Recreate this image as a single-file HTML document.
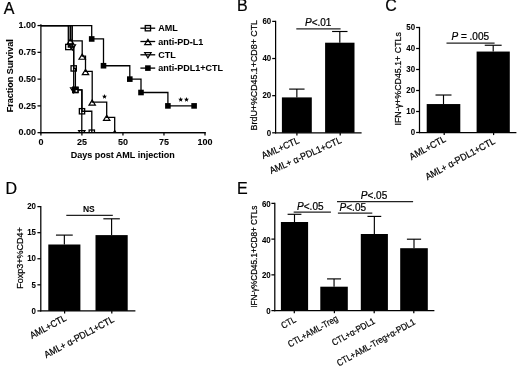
<!DOCTYPE html>
<html><head><meta charset="utf-8"><style>
html,body{margin:0;padding:0;background:#fff;}
svg{display:block;filter:grayscale(1);}
text{font-family:"Liberation Sans",sans-serif;fill:#000;stroke:#000;stroke-width:0.22px;}
text[font-weight="bold"]{stroke-width:0.05px;}
</style></head><body>
<svg width="520" height="368" viewBox="0 0 520 368">
<rect width="520" height="368" fill="#fff"/>
<text x="3.80" y="14.30" font-size="16">A</text>
<path d="M40.90 24.37L40.90 133.27" stroke="#000" stroke-width="1.25"/>
<path d="M40.30 132.67L205.60 132.67" stroke="#000" stroke-width="1.25"/>
<path d="M37.50 132.67L40.90 132.67" stroke="#000" stroke-width="1.25"/>
<text x="36.00" y="135.47" font-size="9" font-weight="bold" text-anchor="end">0.00</text>
<path d="M37.50 105.89L40.90 105.89" stroke="#000" stroke-width="1.25"/>
<text x="36.00" y="108.69" font-size="9" font-weight="bold" text-anchor="end">0.25</text>
<path d="M37.50 79.12L40.90 79.12" stroke="#000" stroke-width="1.25"/>
<text x="36.00" y="81.92" font-size="9" font-weight="bold" text-anchor="end">0.50</text>
<path d="M37.50 52.34L40.90 52.34" stroke="#000" stroke-width="1.25"/>
<text x="36.00" y="55.14" font-size="9" font-weight="bold" text-anchor="end">0.75</text>
<path d="M37.50 25.57L40.90 25.57" stroke="#000" stroke-width="1.25"/>
<text x="36.00" y="28.37" font-size="9" font-weight="bold" text-anchor="end">1.00</text>
<path d="M40.90 132.67L40.90 135.47" stroke="#000" stroke-width="1.25"/>
<text x="40.90" y="145.00" font-size="9" font-weight="bold" text-anchor="middle">0</text>
<path d="M81.92 132.67L81.92 135.47" stroke="#000" stroke-width="1.25"/>
<text x="81.92" y="145.00" font-size="9" font-weight="bold" text-anchor="middle">25</text>
<path d="M122.95 132.67L122.95 135.47" stroke="#000" stroke-width="1.25"/>
<text x="122.95" y="145.00" font-size="9" font-weight="bold" text-anchor="middle">50</text>
<path d="M163.97 132.67L163.97 135.47" stroke="#000" stroke-width="1.25"/>
<text x="163.97" y="145.00" font-size="9" font-weight="bold" text-anchor="middle">75</text>
<path d="M205.00 132.67L205.00 135.47" stroke="#000" stroke-width="1.25"/>
<text x="205.00" y="145.00" font-size="9" font-weight="bold" text-anchor="middle">100</text>
<text x="122.70" y="158.40" font-size="9" font-weight="bold" text-anchor="middle">Days post AML injection</text>
<text x="13.40" y="75.70" font-size="9" font-weight="bold" text-anchor="middle" transform="rotate(-90 13.40 75.70)">Fraction Survival</text>
<defs><clipPath id="ca"><rect x="0" y="0" width="220" height="132.17"/></clipPath></defs>
<g clip-path="url(#ca)">
<rect x="68.30" y="25.57" width="4.00" height="14.30" fill="#8a8a8a"/>
<polyline points="40.90,25.57 68.30,25.57 68.30,46.99 73.70,46.99 73.70,68.41 75.40,68.41 75.40,89.83 82.00,89.83 82.00,111.25 91.80,111.25 91.80,132.67" fill="none" stroke="#000" stroke-width="1.3"/>
<polyline points="40.90,25.57 70.50,25.57 70.50,40.87 82.20,40.87 82.20,56.17 85.50,56.17 85.50,71.47 92.20,71.47 92.20,102.07 106.70,102.07 106.70,117.37 114.70,117.37 114.70,132.67" fill="none" stroke="#000" stroke-width="1.3"/>
<polyline points="40.90,25.57 72.30,25.57 72.30,46.99 73.70,46.99 73.70,89.83 81.80,89.83 81.80,132.67" fill="none" stroke="#000" stroke-width="1.3"/>
<polyline points="40.90,25.57 91.70,25.57 91.70,38.96 103.50,38.96 103.50,65.73 129.80,65.73 129.80,79.12 141.00,79.12 141.00,92.51 167.90,92.51 167.90,105.89 194.10,105.89" fill="none" stroke="#000" stroke-width="1.3"/>
<rect x="65.65" y="44.34" width="5.30" height="5.30" fill="none" stroke="#000" stroke-width="1.3"/>
<rect x="71.05" y="65.76" width="5.30" height="5.30" fill="none" stroke="#000" stroke-width="1.3"/>
<rect x="72.75" y="87.18" width="5.30" height="5.30" fill="none" stroke="#000" stroke-width="1.3"/>
<rect x="79.35" y="108.60" width="5.30" height="5.30" fill="none" stroke="#000" stroke-width="1.3"/>
<rect x="89.15" y="130.02" width="5.30" height="5.30" fill="none" stroke="#000" stroke-width="1.3"/>
<polygon points="70.50,38.77 73.70,43.97 67.30,43.97" fill="none" stroke="#000" stroke-width="1.2" stroke-linejoin="miter"/>
<polygon points="82.20,54.07 85.40,59.27 79.00,59.27" fill="none" stroke="#000" stroke-width="1.2" stroke-linejoin="miter"/>
<polygon points="85.50,69.37 88.70,74.57 82.30,74.57" fill="none" stroke="#000" stroke-width="1.2" stroke-linejoin="miter"/>
<polygon points="92.20,99.97 95.40,105.17 89.00,105.17" fill="none" stroke="#000" stroke-width="1.2" stroke-linejoin="miter"/>
<polygon points="106.70,115.27 109.90,120.47 103.50,120.47" fill="none" stroke="#000" stroke-width="1.2" stroke-linejoin="miter"/>
<polygon points="114.70,130.57 117.90,135.77 111.50,135.77" fill="none" stroke="#000" stroke-width="1.2" stroke-linejoin="miter"/>
<polygon points="72.30,50.09 75.50,44.89 69.10,44.89" fill="none" stroke="#000" stroke-width="1.2" stroke-linejoin="miter"/>
<polygon points="73.70,92.93 76.90,87.73 70.50,87.73" fill="none" stroke="#000" stroke-width="1.2" stroke-linejoin="miter"/>
<polygon points="81.80,135.77 85.00,130.57 78.60,130.57" fill="none" stroke="#000" stroke-width="1.2" stroke-linejoin="miter"/>
<rect x="88.90" y="36.16" width="5.60" height="5.60" fill="#000"/>
<rect x="100.70" y="62.93" width="5.60" height="5.60" fill="#000"/>
<rect x="127.00" y="76.32" width="5.60" height="5.60" fill="#000"/>
<rect x="138.20" y="89.71" width="5.60" height="5.60" fill="#000"/>
<rect x="165.10" y="103.09" width="5.60" height="5.60" fill="#000"/>
<rect x="191.30" y="103.09" width="5.60" height="5.60" fill="#000"/>
<rect x="72.00" y="86.83" width="6.60" height="6.40" fill="#000"/>
<rect x="75.60" y="90.13" width="1.60" height="1.60" fill="#fff"/>
</g>
<path d="M40.30 132.67L205.60 132.67" stroke="#000" stroke-width="1.25"/>
<polygon points="104.50,94.00 105.18,95.67 106.97,95.80 105.59,96.96 106.03,98.70 104.50,97.75 102.97,98.70 103.41,96.96 102.03,95.80 103.82,95.67" fill="#000"/>
<polygon points="180.70,97.00 181.38,98.67 183.17,98.80 181.79,99.96 182.23,101.70 180.70,100.75 179.17,101.70 179.61,99.96 178.23,98.80 180.02,98.67" fill="#000"/>
<polygon points="186.50,97.00 187.18,98.67 188.97,98.80 187.59,99.96 188.03,101.70 186.50,100.75 184.97,101.70 185.41,99.96 184.03,98.80 185.82,98.67" fill="#000"/>
<path d="M140.40 28.20L155.20 28.20" stroke="#000" stroke-width="1.3"/>
<rect x="145.25" y="25.55" width="5.30" height="5.30" fill="none" stroke="#000" stroke-width="1.3"/>
<text x="158.20" y="31.40" font-size="9" font-weight="bold">AML</text>
<path d="M140.40 41.50L155.20 41.50" stroke="#000" stroke-width="1.3"/>
<polygon points="147.90,39.40 151.10,44.60 144.70,44.60" fill="none" stroke="#000" stroke-width="1.2" stroke-linejoin="miter"/>
<text x="158.20" y="44.70" font-size="9" font-weight="bold">anti-PD-L1</text>
<path d="M140.40 54.80L155.20 54.80" stroke="#000" stroke-width="1.3"/>
<polygon points="147.90,57.90 151.10,52.70 144.70,52.70" fill="none" stroke="#000" stroke-width="1.2" stroke-linejoin="miter"/>
<text x="158.20" y="58.00" font-size="9" font-weight="bold">CTL</text>
<path d="M140.40 68.10L155.20 68.10" stroke="#000" stroke-width="1.3"/>
<rect x="145.10" y="65.30" width="5.60" height="5.60" fill="#000"/>
<text x="158.20" y="71.30" font-size="9" font-weight="bold">anti-PDL1+CTL</text>
<text x="237.10" y="11.20" font-size="16">B</text>
<path d="M275.60 20.80L275.60 133.40" stroke="#000" stroke-width="1.25"/>
<path d="M275.00 132.80L361.60 132.80" stroke="#000" stroke-width="1.25"/>
<path d="M272.20 132.80L275.60 132.80" stroke="#000" stroke-width="1.25"/>
<text transform="translate(271.20 135.50) scale(0.88 1)" font-size="9" font-weight="bold" text-anchor="end">0</text>
<path d="M272.20 95.66L275.60 95.66" stroke="#000" stroke-width="1.25"/>
<text transform="translate(271.20 98.36) scale(0.88 1)" font-size="9" font-weight="bold" text-anchor="end">20</text>
<path d="M272.20 58.52L275.60 58.52" stroke="#000" stroke-width="1.25"/>
<text transform="translate(271.20 61.22) scale(0.88 1)" font-size="9" font-weight="bold" text-anchor="end">40</text>
<path d="M272.20 21.38L275.60 21.38" stroke="#000" stroke-width="1.25"/>
<text transform="translate(271.20 24.08) scale(0.88 1)" font-size="9" font-weight="bold" text-anchor="end">60</text>
<rect x="281.90" y="97.40" width="29.90" height="35.40" fill="#000"/>
<path d="M296.85 97.40L296.85 89.10" stroke="#000" stroke-width="1.15"/>
<path d="M289.15 89.10L304.55 89.10" stroke="#000" stroke-width="1.15"/>
<rect x="325.10" y="42.70" width="29.40" height="90.10" fill="#000"/>
<path d="M339.80 42.70L339.80 31.50" stroke="#000" stroke-width="1.15"/>
<path d="M332.10 31.50L347.50 31.50" stroke="#000" stroke-width="1.15"/>
<path d="M296.90 132.80L296.90 135.40" stroke="#000" stroke-width="1.25"/>
<path d="M340.20 132.80L340.20 135.40" stroke="#000" stroke-width="1.25"/>
<text transform="translate(299.90 142.80) rotate(-24) scale(0.92 1)" font-size="9.6" text-anchor="end">AML+CTL</text>
<text transform="translate(342.20 142.50) rotate(-24) scale(0.92 1)" font-size="9.6" text-anchor="end">AML+ &#945;-PDL1+CTL</text>
<text x="257.40" y="75.20" font-size="8.85" text-anchor="middle" transform="rotate(-90 257.40 75.20)">BrdU+%CD45.1+CD8+ CTL</text>
<path d="M296.30 28.80L340.60 28.80" stroke="#222" stroke-width="1.2"/>
<text x="305" y="26.3" font-size="10"><tspan font-style="italic">P</tspan>&lt;.01</text>
<text x="385.20" y="10.60" font-size="16">C</text>
<path d="M419.50 26.90L419.50 133.10" stroke="#000" stroke-width="1.25"/>
<path d="M418.90 132.50L516.40 132.50" stroke="#000" stroke-width="1.25"/>
<path d="M416.10 132.50L419.50 132.50" stroke="#000" stroke-width="1.25"/>
<text transform="translate(415.10 135.20) scale(0.88 1)" font-size="9" font-weight="bold" text-anchor="end">0</text>
<path d="M416.10 111.50L419.50 111.50" stroke="#000" stroke-width="1.25"/>
<text transform="translate(415.10 114.20) scale(0.88 1)" font-size="9" font-weight="bold" text-anchor="end">10</text>
<path d="M416.10 90.50L419.50 90.50" stroke="#000" stroke-width="1.25"/>
<text transform="translate(415.10 93.20) scale(0.88 1)" font-size="9" font-weight="bold" text-anchor="end">20</text>
<path d="M416.10 69.50L419.50 69.50" stroke="#000" stroke-width="1.25"/>
<text transform="translate(415.10 72.20) scale(0.88 1)" font-size="9" font-weight="bold" text-anchor="end">30</text>
<path d="M416.10 48.50L419.50 48.50" stroke="#000" stroke-width="1.25"/>
<text transform="translate(415.10 51.20) scale(0.88 1)" font-size="9" font-weight="bold" text-anchor="end">40</text>
<path d="M416.10 27.50L419.50 27.50" stroke="#000" stroke-width="1.25"/>
<text transform="translate(415.10 30.20) scale(0.88 1)" font-size="9" font-weight="bold" text-anchor="end">50</text>
<rect x="426.70" y="104.05" width="33.60" height="28.45" fill="#000"/>
<path d="M443.50 104.05L443.50 95.02" stroke="#000" stroke-width="1.15"/>
<path d="M435.50 95.02L451.50 95.02" stroke="#000" stroke-width="1.15"/>
<rect x="476.60" y="51.55" width="33.20" height="80.95" fill="#000"/>
<path d="M493.20 51.55L493.20 45.25" stroke="#000" stroke-width="1.15"/>
<path d="M484.75 45.25L501.65 45.25" stroke="#000" stroke-width="1.15"/>
<path d="M444.20 132.50L444.20 135.10" stroke="#000" stroke-width="1.25"/>
<path d="M493.60 132.50L493.60 135.10" stroke="#000" stroke-width="1.25"/>
<text transform="translate(446.60 141.10) rotate(-28.5) scale(0.92 1)" font-size="9.6" text-anchor="end">AML+CTL</text>
<text transform="translate(495.70 143.20) rotate(-28.5) scale(0.92 1)" font-size="9.6" text-anchor="end">AML+ &#945;-PDL1+CTL</text>
<text x="401.30" y="78.80" font-size="8.85" text-anchor="middle" transform="rotate(-90 401.30 78.80)">IFN-&#947;+%CD45.1+ CTLs</text>
<path d="M446.50 43.20L494.60 43.20" stroke="#222" stroke-width="1.2"/>
<text x="451.5" y="39.9" font-size="10"><tspan font-style="italic">P</tspan> = .005</text>
<text x="5.50" y="193.50" font-size="16">D</text>
<path d="M40.80 206.00L40.80 311.50" stroke="#000" stroke-width="1.25"/>
<path d="M40.20 310.90L135.40 310.90" stroke="#000" stroke-width="1.25"/>
<path d="M37.40 310.90L40.80 310.90" stroke="#000" stroke-width="1.25"/>
<text transform="translate(36.00 313.60) scale(0.88 1)" font-size="9" font-weight="bold" text-anchor="end">0</text>
<path d="M37.40 284.82L40.80 284.82" stroke="#000" stroke-width="1.25"/>
<text transform="translate(36.00 287.52) scale(0.88 1)" font-size="9" font-weight="bold" text-anchor="end">5</text>
<path d="M37.40 258.75L40.80 258.75" stroke="#000" stroke-width="1.25"/>
<text transform="translate(36.00 261.45) scale(0.88 1)" font-size="9" font-weight="bold" text-anchor="end">10</text>
<path d="M37.40 232.67L40.80 232.67" stroke="#000" stroke-width="1.25"/>
<text transform="translate(36.00 235.37) scale(0.88 1)" font-size="9" font-weight="bold" text-anchor="end">15</text>
<path d="M37.40 206.60L40.80 206.60" stroke="#000" stroke-width="1.25"/>
<text transform="translate(36.00 209.30) scale(0.88 1)" font-size="9" font-weight="bold" text-anchor="end">20</text>
<rect x="48.30" y="244.50" width="32.10" height="66.40" fill="#000"/>
<path d="M64.35 244.50L64.35 235.10" stroke="#000" stroke-width="1.15"/>
<path d="M55.95 235.10L72.75 235.10" stroke="#000" stroke-width="1.15"/>
<rect x="95.50" y="235.10" width="32.20" height="75.80" fill="#000"/>
<path d="M111.60 235.10L111.60 218.80" stroke="#000" stroke-width="1.15"/>
<path d="M103.35 218.80L119.85 218.80" stroke="#000" stroke-width="1.15"/>
<path d="M64.60 310.90L64.60 313.50" stroke="#000" stroke-width="1.25"/>
<path d="M111.80 310.90L111.80 313.50" stroke="#000" stroke-width="1.25"/>
<text transform="translate(67.10 320.10) rotate(-28.3) scale(0.92 1)" font-size="9.6" text-anchor="end">AML+CTL</text>
<text transform="translate(114.80 321.50) rotate(-28.3) scale(0.92 1)" font-size="9.6" text-anchor="end">AML+ &#945;-PDL1+CTL</text>
<text x="22.80" y="257.90" font-size="9" text-anchor="middle" transform="rotate(-90 22.80 257.90)">Foxp3+%CD4+</text>
<path d="M66.30 215.40L112.80 215.40" stroke="#222" stroke-width="1.2"/>
<text x="88.80" y="212.20" font-size="8.5" font-weight="bold" text-anchor="middle">NS</text>
<text x="237.10" y="193.60" font-size="16">E</text>
<path d="M274.80 202.78L274.80 311.20" stroke="#000" stroke-width="1.25"/>
<path d="M274.20 310.60L434.40 310.60" stroke="#000" stroke-width="1.25"/>
<path d="M271.40 310.60L274.80 310.60" stroke="#000" stroke-width="1.25"/>
<text transform="translate(270.70 314.00) scale(0.88 1)" font-size="9" font-weight="bold" text-anchor="end">0</text>
<path d="M271.40 274.86L274.80 274.86" stroke="#000" stroke-width="1.25"/>
<text transform="translate(270.70 278.26) scale(0.88 1)" font-size="9" font-weight="bold" text-anchor="end">20</text>
<path d="M271.40 239.12L274.80 239.12" stroke="#000" stroke-width="1.25"/>
<text transform="translate(270.70 242.52) scale(0.88 1)" font-size="9" font-weight="bold" text-anchor="end">40</text>
<path d="M271.40 203.38L274.80 203.38" stroke="#000" stroke-width="1.25"/>
<text transform="translate(270.70 206.78) scale(0.88 1)" font-size="9" font-weight="bold" text-anchor="end">60</text>
<rect x="280.90" y="222.00" width="27.20" height="88.60" fill="#000"/>
<path d="M294.50 222.00L294.50 214.30" stroke="#000" stroke-width="1.15"/>
<path d="M287.60 214.30L301.40 214.30" stroke="#000" stroke-width="1.15"/>
<rect x="320.30" y="286.70" width="27.50" height="23.90" fill="#000"/>
<path d="M334.05 286.70L334.05 278.90" stroke="#000" stroke-width="1.15"/>
<path d="M327.05 278.90L341.05 278.90" stroke="#000" stroke-width="1.15"/>
<rect x="360.80" y="234.00" width="27.10" height="76.60" fill="#000"/>
<path d="M374.35 234.00L374.35 216.40" stroke="#000" stroke-width="1.15"/>
<path d="M367.45 216.40L381.25 216.40" stroke="#000" stroke-width="1.15"/>
<rect x="400.20" y="248.20" width="27.60" height="62.40" fill="#000"/>
<path d="M414.00 248.20L414.00 239.20" stroke="#000" stroke-width="1.15"/>
<path d="M406.90 239.20L421.10 239.20" stroke="#000" stroke-width="1.15"/>
<path d="M294.30 310.60L294.30 313.20" stroke="#000" stroke-width="1.25"/>
<path d="M334.40 310.60L334.40 313.20" stroke="#000" stroke-width="1.25"/>
<path d="M374.20 310.60L374.20 313.20" stroke="#000" stroke-width="1.25"/>
<path d="M413.80 310.60L413.80 313.20" stroke="#000" stroke-width="1.25"/>
<text transform="translate(296.60 321.50) rotate(-29) scale(0.88 1)" font-size="9.2" text-anchor="end">CTL</text>
<text transform="translate(338.80 320.40) rotate(-29) scale(0.88 1)" font-size="9.2" text-anchor="end">CTL+AML-Treg</text>
<text transform="translate(375.60 323.00) rotate(-29) scale(0.88 1)" font-size="9.2" text-anchor="end">CTL+&#945;-PDL1</text>
<text transform="translate(415.90 323.80) rotate(-29) scale(0.88 1)" font-size="9.2" text-anchor="end">CTL+AML-Treg+&#945;-PDL1</text>
<text x="257.30" y="256.70" font-size="8.15" text-anchor="middle" transform="rotate(-90 257.30 256.70)">IFN-&#947;%CD45.1+CD8+ CTLs</text>
<path d="M293.70 212.20L330.90 212.20" stroke="#222" stroke-width="1.2"/>
<text x="297.1" y="210.2" font-size="10"><tspan font-style="italic">P</tspan>&lt;.05</text>
<path d="M337.90 213.10L372.30 213.10" stroke="#222" stroke-width="1.2"/>
<text x="339.6" y="211.2" font-size="10"><tspan font-style="italic">P</tspan>&lt;.05</text>
<path d="M337.00 201.70L413.10 201.70" stroke="#222" stroke-width="1.2"/>
<text x="360.8" y="198.9" font-size="10"><tspan font-style="italic">P</tspan>&lt;.05</text>
</svg></body></html>
